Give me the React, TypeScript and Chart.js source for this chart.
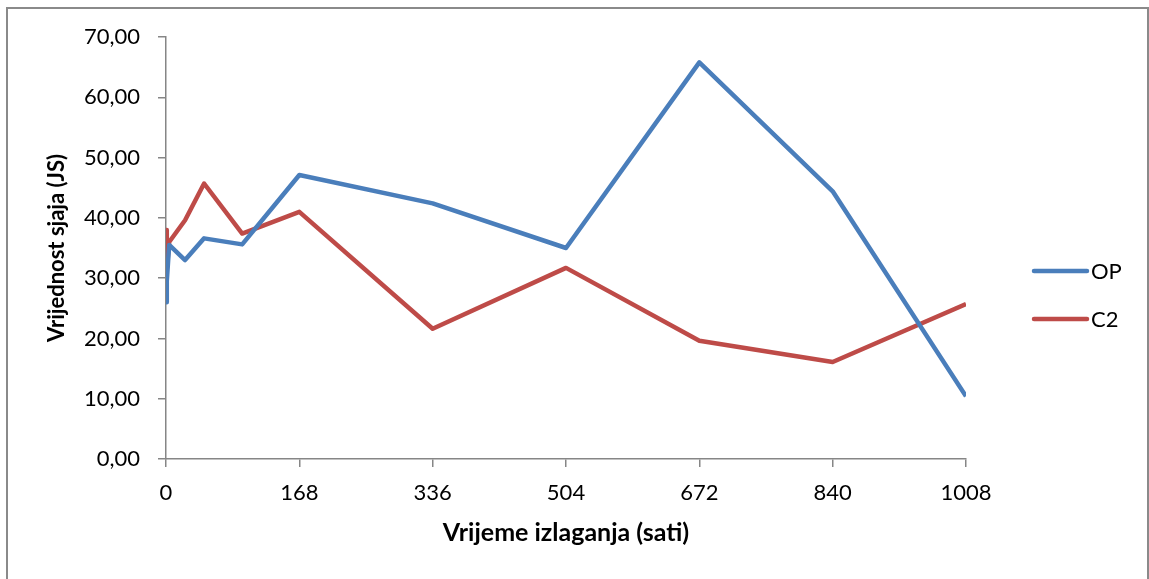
import React, { useEffect, useRef } from "react";
import { Chart, registerables } from "chart.js";

Chart.register(...registerables);

const seriesNames = ["OP", "C2"];
const opHours = [0, 1, 4, 24, 48, 96, 168, 336, 504, 672, 840, 1008];
const opValues = [26.0, 29.5, 35.5, 33.0, 36.6, 35.6, 47.1, 42.4, 35.0, 65.8, 44.4, 10.4];
const c2Hours = [0, 1, 4, 24, 48, 96, 168, 336, 504, 672, 840, 1008];
const c2Values = [38.0, 31.5, 36.0, 39.6, 45.7, 37.4, 41.0, 21.6, 31.7, 19.6, 16.1, 25.7];
const xTickStep = 168;
const xMax = 1008;
const yMax = 70;
const yStep = 10;
const yTitle = "Vrijednost sjaja (JS)";
const xTitle = "Vrijeme izlaganja (sati)";

const BLUE = "#4A7EBB";
const RED = "#BE4B48";
const AXIS = "#868686";
const FONT = "Lato, 'Open Sans', sans-serif";

const framePlugin = {
  id: "frame",
  afterDraw(chart: any) {
    const ctx = chart.ctx;
    ctx.save();
    ctx.strokeStyle = "#8a8a8a";
    ctx.lineWidth = 2;
    ctx.strokeRect(7, 8, 1141, 620);
    const items = chart.data.datasets;
    const ys = [271, 319];
    items.forEach((ds: any, i: number) => {
      const y = ys[i];
      ctx.strokeStyle = ds.borderColor;
      ctx.lineWidth = 4.5;
      ctx.lineCap = "round";
      ctx.beginPath();
      ctx.moveTo(1034, y);
      ctx.lineTo(1087, y);
      ctx.stroke();
      ctx.fillStyle = "#000";
      ctx.font = `22px ${FONT}`;
      ctx.textBaseline = "middle";
      ctx.textAlign = "left";
      ctx.fillText(ds.label, 1091, y + 1);
    });
    ctx.restore();
  },
};

export default function App() {
  const ref = useRef<HTMLCanvasElement | null>(null);
  useEffect(() => {
    if (!ref.current) return;
    const chart = new Chart(ref.current, {
      type: "line",
      data: {
        datasets: [
          {
            label: seriesNames[0],
            data: opHours.map((h, i) => ({ x: h, y: opValues[i] })),
            borderColor: BLUE,
            backgroundColor: BLUE,
            borderWidth: 4.5,
            pointRadius: 0,
            tension: 0,
            borderJoinStyle: "round",
          },
          {
            label: seriesNames[1],
            data: c2Hours.map((h, i) => ({ x: h, y: c2Values[i] })),
            borderColor: RED,
            backgroundColor: RED,
            borderWidth: 4.5,
            pointRadius: 0,
            tension: 0,
            borderJoinStyle: "round",
          },
        ],
      },
      options: {
        animation: false,
        responsive: false,
        layout: { padding: { top: 37, right: 183, left: 0, bottom: 0 } },
        plugins: { legend: { display: false }, tooltip: { enabled: false } },
        scales: {
          x: {
            type: "linear",
            min: 0,
            max: xMax,
            afterFit: (s: any) => {
              s.height = 120;
            },
            ticks: {
              stepSize: xTickStep,
              color: "#000",
              font: { size: 22, family: FONT },
              padding: 13,
              maxRotation: 0,
              callback: (v: any) => String(v),
            },
            grid: { drawOnChartArea: false, tickLength: 8, color: AXIS, lineWidth: 1.5 },
            border: { color: AXIS, width: 1.5 },
            title: {
              display: true,
              text: xTitle,
              color: "#000",
              font: { size: 25, weight: "bold", family: FONT },
              padding: { top: 0, bottom: 31 },
            },
          },
          y: {
            min: 0,
            max: yMax,
            afterFit: (s: any) => {
              s.width = 166;
            },
            ticks: {
              stepSize: yStep,
              color: "#000",
              font: { size: 22, family: FONT },
              padding: 18,
              callback: (v: any) => Number(v).toFixed(2).replace(".", ","),
            },
            grid: { drawOnChartArea: false, tickLength: 8, color: AXIS, lineWidth: 1.5 },
            border: { color: AXIS, width: 1.5 },
            title: {
              display: true,
              text: yTitle,
              color: "#000",
              font: { size: 22, weight: "bold", family: FONT },
              padding: { top: 44, bottom: 0 },
            },
          },
        },
      },
      plugins: [framePlugin],
    } as any);
    return () => chart.destroy();
  }, []);
  return (
    <div style={{ position: "fixed", left: 0, top: 0, width: 1149, height: 579, background: "#fff" }}>
      <canvas ref={ref} width={1149} height={579} style={{ display: "block" }} />
    </div>
  );
}
